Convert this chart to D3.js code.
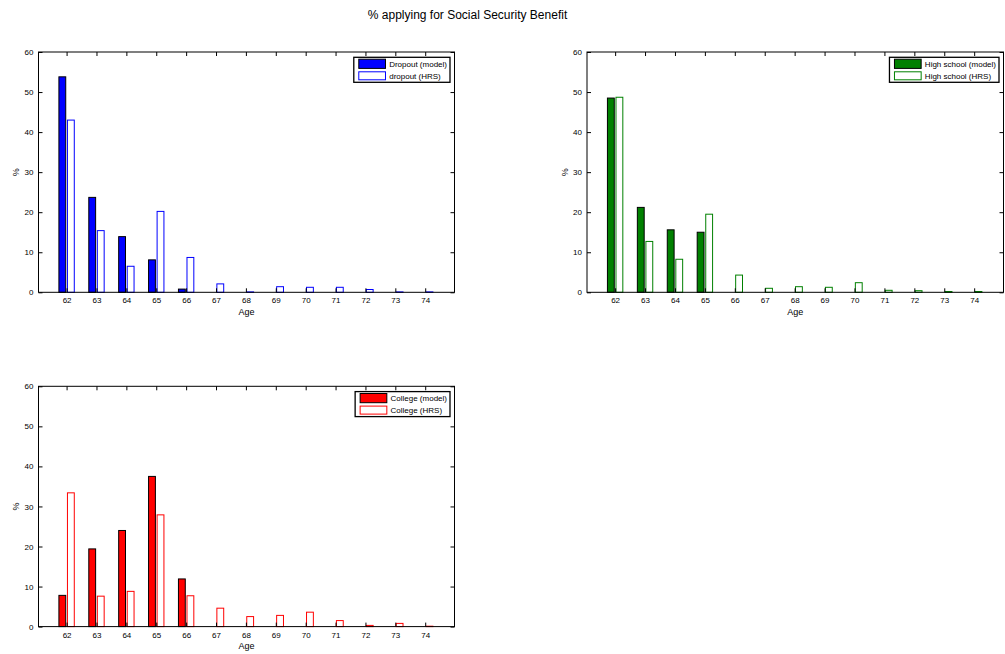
<!DOCTYPE html>
<html>
<head>
<meta charset="utf-8">
<script src="https://cdn.jsdelivr.net/npm/d3@7"></script>
<style>
  html, body { margin: 0; padding: 0; background: #fff; }
  svg { display: block; font-family: "Liberation Sans", Arial, Helvetica, sans-serif; }
</style>
</head>
<body>
<svg id="chart" width="1005" height="654"></svg>
<script>
// ---- data ----
const ages = [62, 63, 64, 65, 66, 67, 68, 69, 70, 71, 72, 73, 74];
const yTicks = [0, 10, 20, 30, 40, 50, 60];

const dropoutModel = [53.8, 23.7, 13.9, 8.1, 0.8, 0, 0, 0, 0, 0, 0, 0, 0];
const dropoutHRS   = [43.0, 15.4, 6.5, 20.2, 8.7, 2.1, 0.1, 1.4, 1.25, 1.25, 0.7, 0.1, 0.1];

const highModel = [48.5, 21.2, 15.6, 15.0, 0, 0, 0, 0, 0, 0, 0, 0, 0];
const highHRS   = [48.7, 12.7, 8.25, 19.5, 4.3, 1.0, 1.4, 1.25, 2.4, 0.5, 0.4, 0.2, 0.2];

const collegeModel = [7.8, 19.4, 24.0, 37.5, 11.9, 0, 0, 0, 0, 0, 0, 0, 0];
const collegeHRS   = [33.4, 7.6, 8.8, 27.9, 7.7, 4.6, 2.5, 2.8, 3.6, 1.5, 0.3, 0.8, 0.1];

const titleText = "% applying for Social Security Benefit";

// ---- layout ----
const panels = [
  { left: 38.5, top: 52, width: 416, height: 240.3, model: dropoutModel, hrs: dropoutHRS,
    color: "#0000ff", labels: ["Dropout (model)", "dropout (HRS)"] },
  { left: 587, top: 52, width: 416.5, height: 240.3, model: highModel, hrs: highHRS,
    color: "#008000", labels: ["High school (model)", "High school (HRS)"] },
  { left: 38.5, top: 386.3, width: 416, height: 240.3, model: collegeModel, hrs: collegeHRS,
    color: "#ff0000", labels: ["College (model)", "College (HRS)"] }
];

const svg = d3.select("#chart");

svg.append("text")
  .attr("x", 467.5).attr("y", 18.5)
  .attr("text-anchor", "middle")
  .attr("font-size", 12)
  .attr("fill", "#000")
  .text(titleText);

const groupOffset = 0.1429; // half of per-series spacing (MATLAB grouped bar)
const barHalf = 0.1143;     // half bar width in axis units

panels.forEach(p => {
  const g = svg.append("g").attr("transform", `translate(${p.left},${p.top})`);
  const x = d3.scaleLinear().domain([61.06, 74.98]).range([0, p.width]);
  const y = d3.scaleLinear().domain([0, 60]).range([p.height, 0]);

  const rows = ages.map((a, i) => ({ age: a, model: p.model[i], hrs: p.hrs[i] }));

  g.selectAll("rect.model").data(rows).join("rect")
    .attr("class", "model")
    .attr("x", d => x(d.age - groupOffset - barHalf))
    .attr("width", d => x(d.age - groupOffset + barHalf) - x(d.age - groupOffset - barHalf))
    .attr("y", d => y(d.model))
    .attr("height", d => y(0) - y(d.model))
    .attr("fill", p.color)
    .attr("stroke", "#000")
    .attr("stroke-width", 1);

  g.selectAll("rect.hrs").data(rows).join("rect")
    .attr("class", "hrs")
    .attr("x", d => x(d.age + groupOffset - barHalf))
    .attr("width", d => x(d.age + groupOffset + barHalf) - x(d.age + groupOffset - barHalf))
    .attr("y", d => y(d.hrs))
    .attr("height", d => y(0) - y(d.hrs))
    .attr("fill", "#fff")
    .attr("stroke", p.color)
    .attr("stroke-width", 1);

  // axes (ticks inward)
  const ax = g.append("g").attr("transform", `translate(0,${p.height})`)
    .call(d3.axisBottom(x).tickValues(ages).tickFormat(d3.format("d"))
      .tickSizeInner(-4).tickSizeOuter(0).tickPadding(5.3));
  ax.select(".domain").remove();
  ax.selectAll("text").attr("font-size", 8).attr("fill", "#000").attr("font-family", null);
  ax.selectAll("line").attr("stroke", "#000");

  const axT = g.append("g")
    .call(d3.axisTop(x).tickValues(ages).tickFormat("").tickSizeInner(-4).tickSizeOuter(0));
  axT.select(".domain").remove();
  axT.selectAll("line").attr("stroke", "#000");

  const ay = g.append("g")
    .call(d3.axisLeft(y).tickValues(yTicks).tickSizeInner(-4).tickSizeOuter(0).tickPadding(5));
  ay.select(".domain").remove();
  ay.selectAll("text").attr("font-size", 8).attr("fill", "#000").attr("font-family", null);
  ay.selectAll("line").attr("stroke", "#000");

  const ayR = g.append("g").attr("transform", `translate(${p.width},0)`)
    .call(d3.axisRight(y).tickValues(yTicks).tickFormat("").tickSizeInner(-4).tickSizeOuter(0));
  ayR.select(".domain").remove();
  ayR.selectAll("line").attr("stroke", "#000");

  // box
  g.append("rect")
    .attr("x", 0).attr("y", 0).attr("width", p.width).attr("height", p.height)
    .attr("fill", "none").attr("stroke", "#000").attr("stroke-width", 1);

  // axis labels
  g.append("text")
    .attr("x", p.width / 2).attr("y", p.height + 22.3)
    .attr("text-anchor", "middle").attr("font-size", 9).attr("fill", "#000")
    .text("Age");
  g.append("text")
    .attr("transform", `translate(-19.5,${p.height / 2}) rotate(-90)`)
    .attr("text-anchor", "middle").attr("font-size", 9).attr("fill", "#000")
    .text("%");

  // legend
  const lg = g.append("g");
  const box = lg.append("rect").attr("fill", "#fff").attr("stroke", "#000").attr("stroke-width", 1.3);
  const texts = p.labels.map((t, i) =>
    lg.append("text").attr("x", 35.4).attr("y", 6.9 + i * 11.8).attr("dy", "0.35em")
      .attr("font-size", 8).attr("fill", "#000").text(t));
  const tw = d3.max(texts, t => t.node().getComputedTextLength());
  const lw = 35.4 + tw + 3;
  const lh = 25;
  box.attr("x", 0).attr("y", 0).attr("width", lw).attr("height", lh);
  lg.append("rect").attr("x", 5).attr("y", 1.9).attr("width", 26.7).attr("height", 9.2)
    .attr("fill", p.color).attr("stroke", "#000").attr("stroke-width", 1);
  lg.append("rect").attr("x", 5).attr("y", 14.5).attr("width", 26.7).attr("height", 8)
    .attr("fill", "#fff").attr("stroke", p.color).attr("stroke-width", 1);
  lg.attr("transform", `translate(${p.width - 4.5 - lw},5.3)`);
});
</script>
</body>
</html>
